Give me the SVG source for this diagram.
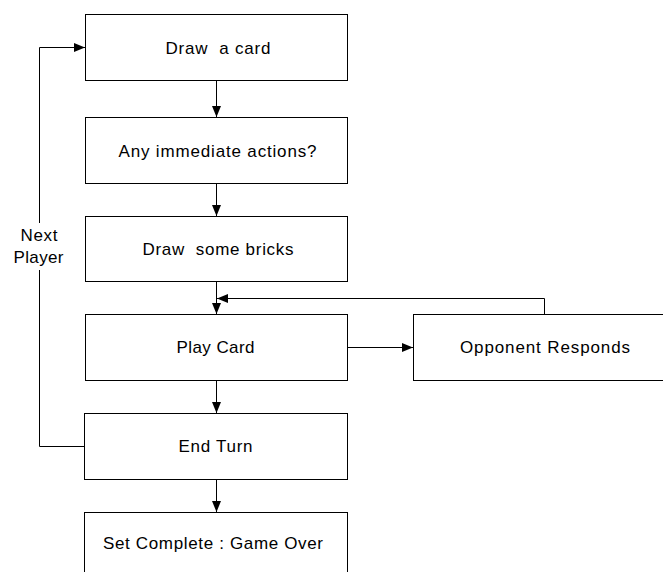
<svg xmlns="http://www.w3.org/2000/svg" width="663" height="572" viewBox="0 0 663 572">
<style>
  .box { fill: #fff; stroke: #000; stroke-width: 1; }
  .lbl { font-family: "Liberation Sans", Arial, sans-serif; font-size: 17px; fill: #000; text-anchor: middle; white-space: pre; }
  .conn { fill: none; stroke: #000; stroke-width: 1; }
</style>
<defs>
  <marker id="arr" markerUnits="userSpaceOnUse" markerWidth="11" markerHeight="9" refX="11" refY="4.5" orient="auto">
    <path d="M0,0 L11,4.5 L0,9 z" fill="#000"/>
  </marker>
</defs>
<rect width="663" height="572" fill="#fff"/>
<g id="connectors">
  <line class="conn" x1="216.5" y1="80.5" x2="216.5" y2="117" marker-end="url(#arr)"/>
  <line class="conn" x1="216.5" y1="183.5" x2="216.5" y2="216" marker-end="url(#arr)"/>
  <line class="conn" x1="216.5" y1="281.5" x2="216.5" y2="314" marker-end="url(#arr)"/>
  <line class="conn" x1="216.5" y1="380.5" x2="216.5" y2="413" marker-end="url(#arr)"/>
  <line class="conn" x1="216.5" y1="479.5" x2="216.5" y2="512" marker-end="url(#arr)"/>
  <line class="conn" x1="348" y1="347.5" x2="413" y2="347.5" marker-end="url(#arr)"/>
  <polyline class="conn" points="544.5,314 544.5,298.5 217,298.5" marker-end="url(#arr)"/>
  <polyline class="conn" points="85,446.5 39.5,446.5 39.5,270"/>
  <polyline class="conn" points="39.5,223 39.5,47.5 85,47.5" marker-end="url(#arr)"/>
  <g id="label-next-player">
    <text class="lbl" x="39" y="241" textLength="37" lengthAdjust="spacing">Next</text>
    <text class="lbl" x="38.5" y="263" textLength="50" lengthAdjust="spacing">Player</text>
  </g>
</g>
<g id="node-draw-card">
  <rect class="box" x="85.5" y="14.5" width="262" height="66"/>
  <text class="lbl" x="218" y="53.5" textLength="105" lengthAdjust="spacing">Draw  a card</text>
</g>
<g id="node-immediate">
  <rect class="box" x="85.5" y="117.5" width="262" height="66"/>
  <text class="lbl" x="217.5" y="156.5" textLength="198" lengthAdjust="spacing">Any immediate actions?</text>
</g>
<g id="node-bricks">
  <rect class="box" x="85.5" y="216.5" width="262" height="65"/>
  <text class="lbl" x="218" y="255" textLength="151" lengthAdjust="spacing">Draw  some bricks</text>
</g>
<g id="node-play">
  <rect class="box" x="85.5" y="314.5" width="262" height="66"/>
  <text class="lbl" x="215.5" y="353" textLength="78" lengthAdjust="spacing">Play Card</text>
</g>
<g id="node-opponent">
  <rect class="box" x="413.5" y="314.5" width="263" height="66"/>
  <text class="lbl" x="545" y="353" textLength="170" lengthAdjust="spacing">Opponent Responds</text>
</g>
<g id="node-end-turn">
  <rect class="box" x="84.5" y="413.5" width="263" height="66"/>
  <text class="lbl" x="215.5" y="452" textLength="74" lengthAdjust="spacing">End Turn</text>
</g>
<g id="node-game-over">
  <rect class="box" x="84.5" y="512.5" width="263" height="66"/>
  <text class="lbl" x="213" y="548.5" textLength="220" lengthAdjust="spacing">Set Complete : Game Over</text>
</g>
</svg>
